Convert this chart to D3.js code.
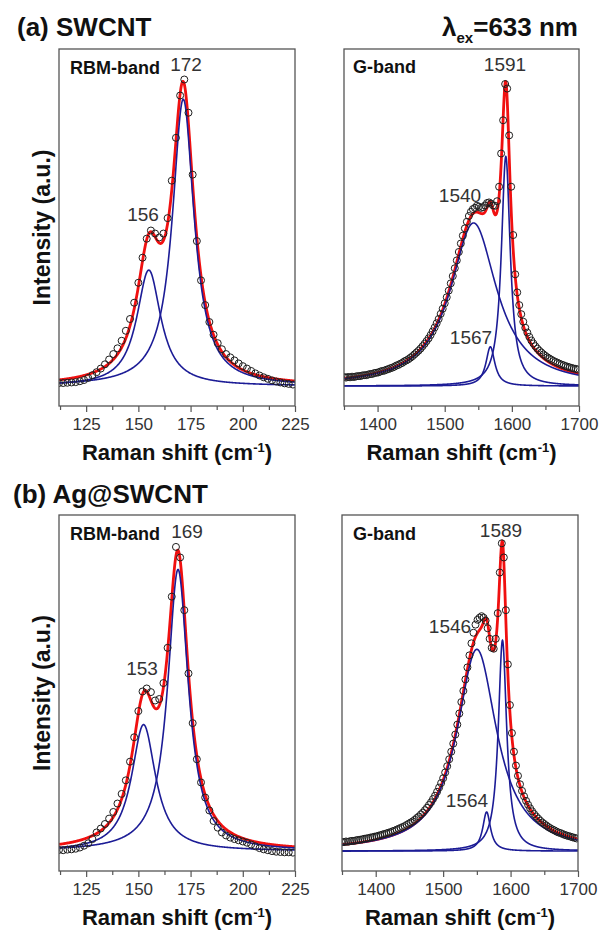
<!DOCTYPE html>
<html>
<head>
<meta charset="utf-8">
<script src="https://cdn.jsdelivr.net/npm/d3@7"></script>
<style>
  body { margin: 0; background: #fff; }
  text { font-family: Arial, "Liberation Sans", sans-serif; }
</style>
</head>
<body>
<div id="chart"></div>
<script>
let width = 600, height = 932;

// ---- measured spectra (normalised intensity), evenly sampled ----
const rbmStart = 112, rbmStep = 2;
const gStart = 1350, gStep = 3;

// (a) SWCNT, RBM band, 112..224
const rbmA = [0.010,0.010,0.011,0.012,0.013,0.016,0.020,0.027,0.036,0.046,
  0.058,0.072,0.088,0.106,0.125,0.150,0.183,0.222,0.276,0.342,
  0.425,0.488,0.515,0.505,0.492,0.505,0.556,0.680,0.822,0.962,
  1.015,0.905,0.700,0.480,0.350,0.268,0.212,0.170,0.142,0.122,
  0.106,0.095,0.085,0.075,0.066,0.058,0.050,0.042,0.035,0.029,
  0.024,0.019,0.015,0.012,0.009,0.007,0.005];

// (a) SWCNT, G band, 1350..1698
const gA = [0.030,0.028,0.030,0.029,0.031,0.030,0.032,0.033,0.033,0.035,
  0.036,0.036,0.038,0.040,0.040,0.043,0.044,0.045,0.048,0.050,
  0.051,0.054,0.056,0.059,0.061,0.064,0.068,0.070,0.074,0.077,
  0.082,0.085,0.089,0.094,0.099,0.105,0.111,0.117,0.124,0.132,
  0.140,0.149,0.158,0.169,0.181,0.194,0.208,0.222,0.239,0.256,
  0.274,0.294,0.316,0.340,0.364,0.390,0.416,0.444,0.472,0.498,
  0.522,0.544,0.563,0.577,0.586,0.590,0.597,0.594,0.590,0.592,
  0.598,0.606,0.608,0.604,0.598,0.597,0.612,0.660,0.770,0.880,
  1.000,0.985,0.830,0.660,0.500,0.370,0.310,0.268,0.238,0.213,
  0.193,0.177,0.163,0.151,0.141,0.132,0.124,0.117,0.111,0.105,
  0.100,0.095,0.091,0.087,0.083,0.080,0.077,0.074,0.071,0.069,
  0.066,0.064,0.062,0.060,0.058,0.057,0.055];

// (b) Ag@SWCNT, RBM band, 112..224
const rbmB = [0.004,0.003,0.005,0.006,0.008,0.012,0.018,0.026,0.040,0.062,
  0.075,0.090,0.108,0.130,0.158,0.190,0.235,0.297,0.378,0.465,
  0.530,0.540,0.528,0.500,0.505,0.558,0.675,0.845,1.010,0.975,
  0.800,0.590,0.425,0.305,0.228,0.178,0.135,0.100,0.078,0.062,
  0.052,0.045,0.040,0.036,0.032,0.028,0.022,0.016,0.010,0.006,
  0.003,0.000,-0.002,-0.003,-0.004,-0.004,-0.005];

// (b) Ag@SWCNT, G band, 1350..1698
const gB = [0.030,0.030,0.032,0.031,0.033,0.034,0.034,0.036,0.037,0.038,
  0.039,0.041,0.042,0.043,0.045,0.046,0.048,0.049,0.051,0.053,
  0.055,0.057,0.059,0.061,0.063,0.066,0.068,0.071,0.074,0.077,
  0.080,0.083,0.087,0.091,0.095,0.099,0.104,0.110,0.115,0.122,
  0.128,0.136,0.144,0.153,0.162,0.173,0.184,0.197,0.211,0.226,
  0.242,0.261,0.282,0.305,0.330,0.357,0.387,0.420,0.457,0.495,
  0.532,0.570,0.610,0.650,0.690,0.725,0.752,0.768,0.775,0.780,
  0.775,0.765,0.740,0.705,0.675,0.672,0.705,0.790,0.925,1.022,
  0.975,0.800,0.620,0.485,0.392,0.330,0.284,0.250,0.222,0.200,
  0.182,0.167,0.154,0.142,0.132,0.123,0.115,0.108,0.101,0.095,
  0.090,0.085,0.080,0.076,0.072,0.069,0.065,0.062,0.060,0.057,
  0.054,0.052,0.050,0.048,0.046,0.044,0.042];

// ---- Lorentzian fit components: centre, height, half width ----
const fitRbmA = [{ c: 155, h: 0.384, w: 7 }, { c: 171.5, h: 0.95, w: 6.3 }];
const fitGA = [{ c: 1543, h: 0.54, w: 42 }, { c: 1568, h: 0.13, w: 8 }, { c: 1591, h: 0.76, w: 8 }];
const fitRbmB = [{ c: 152.5, h: 0.42, w: 7 }, { c: 169, h: 0.935, w: 6 }];
const fitGB = [{ c: 1550, h: 0.67, w: 36 }, { c: 1564.5, h: 0.13, w: 7 }, { c: 1588, h: 0.70, w: 7.5 }];

// ---- peak labels and ticks ----
const peaksRbmA = ["172", "156"];
const peaksGA = ["1591", "1540", "1567"];
const peaksRbmB = ["169", "153"];
const peaksGB = ["1589", "1546", "1564"];

const rbmMajor = [125, 150, 175, 200, 225];
const rbmMinor = [112.5, 137.5, 162.5, 187.5, 212.5];
const gMajor = [1400, 1500, 1600, 1700];
const gMinor = [1350, 1450, 1550, 1650];

const yDomain = [-0.066, 1.116];

const svg = d3.select("#chart")
  .append("svg")
  .attr("width", width)
  .attr("height", height)
  .attr("viewBox", [0, 0, width, height]);

const red = "#f01010", blue = "#1c1c96", ink = "#333";

let panels = [
  { box: [59, 49, 295, 406], domain: [112, 225], major: rbmMajor, minor: rbmMinor,
    start: rbmStart, step: rbmStep, obs: rbmA, fit: fitRbmA, band: "RBM-band", bandPos: [11, 25],
    peaks: peaksRbmA, peakPos: [[127, 22], [84, 172]] },
  { box: [344, 49, 579, 406], domain: [1350, 1700], major: gMajor, minor: gMinor,
    start: gStart, step: gStep, obs: gA, fit: fitGA, band: "G-band", bandPos: [9, 24],
    peaks: peaksGA, peakPos: [[161, 22], [116, 153], [127, 295]] },
  { box: [59, 515, 295, 871], domain: [112, 225], major: rbmMajor, minor: rbmMinor,
    start: rbmStart, step: rbmStep, obs: rbmB, fit: fitRbmB, band: "RBM-band", bandPos: [11, 25],
    peaks: peaksRbmB, peakPos: [[128, 23], [83, 160]] },
  { box: [342, 515, 578, 871], domain: [1350, 1700], major: gMajor, minor: gMinor,
    start: gStart, step: gStep, obs: gB, fit: fitGB, band: "G-band", bandPos: [11, 25],
    peaks: peaksGB, peakPos: [[159, 22], [108, 118], [125, 292]] }
];

function lorentz(p, x) {
  let u = (x - p.c) / p.w;
  return p.h / (1 + u * u);
}

panels.forEach((p, i) => {
  let [x0, y0, x1, y1] = p.box;
  let x = d3.scaleLinear().domain(p.domain).range([x0, x1]);
  let y = d3.scaleLinear().domain(yDomain).range([y1, y0]);

  let clipId = "clip" + i;
  svg.append("clipPath").attr("id", clipId)
    .append("rect").attr("x", x0).attr("y", y0).attr("width", x1 - x0).attr("height", y1 - y0);

  let g = svg.append("g");
  let plot = g.append("g").attr("clip-path", `url(#${clipId})`);

  let grid = d3.range(p.domain[0], p.domain[1] + 0.01, 0.2);
  let line = d3.line().x(d => x(d[0])).y(d => y(d[1]));

  // total fit (red)
  plot.append("path")
    .datum(grid.map(v => [v, d3.sum(p.fit, c => lorentz(c, v))]))
    .attr("fill", "none")
    .attr("stroke", red)
    .attr("stroke-width", 2.8)
    .attr("stroke-linejoin", "round")
    .attr("d", line);

  // components (blue)
  for (let c of p.fit) {
    plot.append("path")
      .datum(grid.map(v => [v, lorentz(c, v)]))
      .attr("fill", "none")
      .attr("stroke", blue)
      .attr("stroke-width", 1.6)
      .attr("d", line);
  }

  // measured points
  plot.selectAll("circle.obs")
    .data(p.obs)
    .join("circle")
    .attr("class", "obs")
    .attr("cx", (d, k) => x(p.start + k * p.step))
    .attr("cy", d => y(d))
    .attr("r", 3.5)
    .attr("fill", "none")
    .attr("stroke", "#1e1e1e")
    .attr("stroke-width", 1);

  // frame
  g.append("rect")
    .attr("x", x0).attr("y", y0)
    .attr("width", x1 - x0).attr("height", y1 - y0)
    .attr("fill", "none")
    .attr("stroke", "#555")
    .attr("stroke-width", 1.3);

  // x axis: major ticks with labels, minor ticks without
  let ax = g.append("g")
    .attr("transform", `translate(0,${y1})`)
    .call(d3.axisBottom(x).tickValues(p.major).tickFormat(d3.format("d"))
      .tickSize(6).tickPadding(6).tickSizeOuter(0));
  ax.select(".domain").remove();
  ax.selectAll("line").attr("stroke", "#555").attr("stroke-width", 1.2);
  ax.selectAll("text").attr("fill", ink).style("font-size", "17px");

  g.append("g")
    .attr("transform", `translate(0,${y1})`)
    .call(d3.axisBottom(x).tickValues(p.minor).tickSize(4).tickFormat(""))
    .call(a => a.select(".domain").remove())
    .selectAll("line").attr("stroke", "#555").attr("stroke-width", 1.2);

  let title = g.append("text")
    .attr("x", (x0 + x1) / 2)
    .attr("y", y1 + 54)
    .attr("text-anchor", "middle")
    .attr("fill", "#111")
    .style("font-size", "22px")
    .style("font-weight", "bold")
    .text("Raman shift (cm");
  title.append("tspan").attr("dy", -8).style("font-size", "13px").text("-1");
  title.append("tspan").attr("dy", 8).text(")");

  // band name
  g.append("text")
    .attr("x", x0 + p.bandPos[0])
    .attr("y", y0 + p.bandPos[1])
    .attr("fill", "#111")
    .style("font-size", "18px")
    .style("font-weight", "bold")
    .text(p.band);

  // peak positions
  p.peaks.forEach((t, k) => {
    g.append("text")
      .attr("x", x0 + p.peakPos[k][0])
      .attr("y", y0 + p.peakPos[k][1])
      .attr("text-anchor", "middle")
      .attr("fill", ink)
      .style("font-size", "19px")
      .text(t);
  });

  // y axis title on the left column
  if (i % 2 === 0) {
    g.append("text")
      .attr("transform", `translate(50,${(y0 + y1) / 2}) rotate(-90)`)
      .attr("text-anchor", "middle")
      .attr("fill", "#111")
      .style("font-size", "23px")
      .style("font-weight", "bold")
      .text("Intensity (a.u.)");
  }
});

// panel headings
svg.append("text").attr("x", 17).attr("y", 36)
  .attr("fill", "#111").style("font-size", "26px").style("font-weight", "bold")
  .text("(a) SWCNT");
svg.append("text").attr("x", 13).attr("y", 503)
  .attr("fill", "#111").style("font-size", "26px").style("font-weight", "bold")
  .text("(b) Ag@SWCNT");

let lam = svg.append("text").attr("x", 578).attr("y", 36)
  .attr("text-anchor", "end")
  .attr("fill", "#111").style("font-size", "26px").style("font-weight", "bold");
lam.append("tspan").text("λ");
lam.append("tspan").attr("dy", 7).style("font-size", "15px").text("ex");
lam.append("tspan").attr("dy", -7).text("=633 nm");
</script>
</body>
</html>
